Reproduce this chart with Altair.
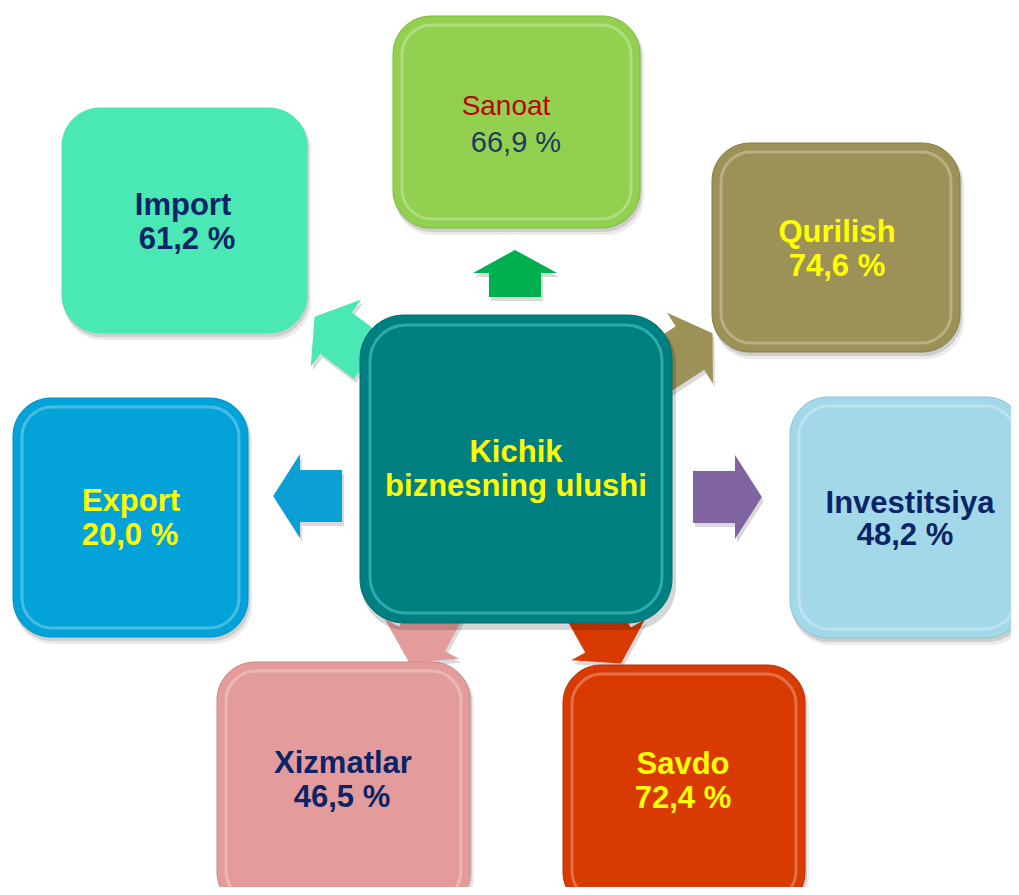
import altair as alt
import pandas as pd

# ---------------- data ----------------
categories = ["Sanoat", "Qurilish", "Investitsiya", "Savdo", "Xizmatlar", "Export", "Import"]
shares = [66.9, 74.6, 48.2, 72.4, 46.5, 20.0, 61.2]
centre_lines = ["Kichik", "biznesning ulushi"]

# ---------------- layout (page pixel coordinates) ----------------
box_x0 = [393, 712, 790, 563, 217, 13, 62]
box_x1 = [640, 960, 1024, 805, 470, 248, 307]
box_y0 = [16, 143, 397, 665, 662, 398, 108]
box_y1 = [228, 352, 638, 910, 910, 637, 333]
bevel = [True, True, True, True, True, True, False]
label_x = [506, 837, 910, 683, 343, 131, 183]
label_y = [107, 233, 504, 765, 764, 502, 206]
value_x = [516, 837, 905, 683, 342, 130, 187]
value_y = [143, 267, 536, 799, 798, 536, 240]
arrow_x = [515, 690, 735, 608, 422, 300, 336]
arrow_y = [273, 348, 497, 640, 639, 496, 333]
arrow_angle = [0, 57, 90, 151, 208, 270, 307]
centre_box = [360, 672, 315, 623]
centre_text_x = [516, 516]
centre_text_y = [453, 487]

# ---------------- styles ----------------
box_fill = ["#92d050", "#9c9156", "#a2d8e8", "#d83a02", "#e39c9b", "#03a3d9", "#4ae8b4"]
box_edge = ["#7cb83e", "#857c48", "#8cc3d4", "#b83000", "#c98887", "#0290c2", "#4ae8b4"]
label_fill = ["#c00000", "#ffff00", "#0b2467", "#ffff00", "#0b2467", "#ffff00", "#0b2467"]
value_fill = ["#1f3864", "#ffff00", "#0b2467", "#ffff00", "#0b2467", "#ffff00", "#0b2467"]
arrow_fill = ["#00b050", "#9c9156", "#8064a2", "#d83a02", "#e39c9b", "#0aa0d6", "#4ae8b4"]
FONT = "Liberation Sans"

W, H = 1003, 879
xs = alt.Scale(domain=[8, 8 + W], nice=False, zero=False)
ys = alt.Scale(domain=[8, 8 + H], nice=False, zero=False, reverse=True)

def fmt(v):
    return f"{v:.1f}".replace(".", ",") + " %"

df = pd.DataFrame({
    "category": categories,
    "value": [fmt(v) for v in shares],
    "x0": box_x0, "x1": box_x1, "y0": box_y0, "y1": box_y1,
    "bevel": bevel,
    "lx": label_x, "ly": label_y, "vx": value_x, "vy": value_y,
    "ax": arrow_x, "ay": arrow_y, "angle": arrow_angle,
    "fill": box_fill, "edge": box_edge, "lfill": label_fill, "vfill": value_fill,
    "afill": arrow_fill,
})
df["sx0"] = df.x0 + 2
df["sx1"] = df.x1 + 4
df["sy0"] = df.y0 + 4
df["sy1"] = df.y1 + 7
df["tx0"] = df.x0 + 1
df["tx1"] = df.x1 + 2
df["ty0"] = df.y0 + 2
df["ty1"] = df.y1 + 4
df["ix0"] = df.x0 + 9
df["ix1"] = df.x1 - 9
df["iy0"] = df.y0 + 9
df["iy1"] = df.y1 - 9

cdf = pd.DataFrame({
    "x0": [centre_box[0]], "x1": [centre_box[1]],
    "y0": [centre_box[2]], "y1": [centre_box[3]],
})
cdf["sx0"] = cdf.x0 + 2
cdf["sx1"] = cdf.x1 + 4
cdf["sy0"] = cdf.y0 + 4
cdf["sy1"] = cdf.y1 + 7
cdf["ix0"] = cdf.x0 + 10
cdf["ix1"] = cdf.x1 - 10
cdf["iy0"] = cdf.y0 + 10
cdf["iy1"] = cdf.y1 - 10

tdf = pd.DataFrame({"line": centre_lines, "tx": centre_text_x, "ty": centre_text_y})

ARROW = "M0,-0.64 L1,0 L0.62,0 L0.62,1 L-0.62,1 L-0.62,0 L-1,0 Z"
ARROW_SHORT = "M0,-0.55 L1,0 L0.62,0 L0.62,0.57 L-0.62,0.57 L-0.62,0 L-1,0 Z"


def rect_enc(a, b, c, d):
    return dict(
        x=alt.X(f"{a}:Q", scale=xs, axis=None),
        x2=alt.X2(f"{b}:Q"),
        y=alt.Y(f"{c}:Q", scale=ys, axis=None),
        y2=alt.Y2(f"{d}:Q"),
    )


base = alt.Chart(df)

arrow_enc = dict(
    x=alt.X("ax:Q", scale=xs, axis=None),
    y=alt.Y("ay:Q", scale=ys, axis=None),
    angle=alt.Angle("angle:Q", scale=None),
    fill=alt.Fill("afill:N", scale=None),
)
arrow_shadow = base.transform_calculate(
    ax2="datum.ax + 2", ay2="datum.ay + 4"
).transform_filter("datum.category != 'Sanoat'").mark_point(
    shape=ARROW, filled=True, size=7056, opacity=0.15, color="#000000", strokeWidth=0
).encode(
    x=alt.X("ax2:Q", scale=xs, axis=None),
    y=alt.Y("ay2:Q", scale=ys, axis=None),
    angle=alt.Angle("angle:Q", scale=None),
)
arrow_top_shadow = base.transform_calculate(
    ax2="datum.ax + 2", ay2="datum.ay + 4"
).transform_filter("datum.category == 'Sanoat'").mark_point(
    shape=ARROW_SHORT, filled=True, size=7056, opacity=0.15, color="#000000", strokeWidth=0
).encode(
    x=alt.X("ax2:Q", scale=xs, axis=None),
    y=alt.Y("ay2:Q", scale=ys, axis=None),
    angle=alt.Angle("angle:Q", scale=None),
)
arrows = base.transform_filter("datum.category != 'Sanoat'").mark_point(
    shape=ARROW, filled=True, size=7056, opacity=1, strokeWidth=0
).encode(**arrow_enc)
arrow_top = base.transform_filter("datum.category == 'Sanoat'").mark_point(
    shape=ARROW_SHORT, filled=True, size=7056, opacity=1, strokeWidth=0
).encode(**arrow_enc)

box_shadow1 = base.mark_rect(cornerRadius=38, color="#000000", opacity=0.08, clip=True).encode(
    **rect_enc("sx0", "sx1", "sy0", "sy1"))
box_shadow2 = base.mark_rect(cornerRadius=38, color="#000000", opacity=0.12, clip=True).encode(
    **rect_enc("tx0", "tx1", "ty0", "ty1"))
boxes = base.mark_rect(cornerRadius=38, clip=True, strokeWidth=1).encode(
    fill=alt.Fill("fill:N", scale=None),
    stroke=alt.Stroke("edge:N", scale=None),
    **rect_enc("x0", "x1", "y0", "y1"))
bevels = base.transform_filter("datum.bevel").mark_rect(
    cornerRadius=30, clip=True, fillOpacity=0, stroke="#ffffff", strokeOpacity=0.28, strokeWidth=3
).encode(**rect_enc("ix0", "ix1", "iy0", "iy1"))

cbase = alt.Chart(cdf)
c_shadow = cbase.mark_rect(cornerRadius=44, color="#000000", opacity=0.16).encode(
    **rect_enc("sx0", "sx1", "sy0", "sy1"))
c_box = cbase.mark_rect(cornerRadius=44, color="#007f80", stroke="#006e6f", strokeWidth=1).encode(
    **rect_enc("x0", "x1", "y0", "y1"))
c_bevel = cbase.mark_rect(cornerRadius=36, fillOpacity=0, stroke="#5fe6e6", strokeOpacity=0.45,
                          strokeWidth=3).encode(**rect_enc("ix0", "ix1", "iy0", "iy1"))
c_text = alt.Chart(tdf).mark_text(font=FONT, fontSize=31, fontWeight="bold", color="#ffff00",
                                  align="center", baseline="middle").encode(
    x=alt.X("tx:Q", scale=xs, axis=None),
    y=alt.Y("ty:Q", scale=ys, axis=None),
    text="line:N",
)

labels_bold = base.transform_filter("datum.category != 'Sanoat'").mark_text(
    font=FONT, fontSize=31, fontWeight="bold", align="center", baseline="middle"
).encode(
    x=alt.X("lx:Q", scale=xs, axis=None), y=alt.Y("ly:Q", scale=ys, axis=None),
    text="category:N", color=alt.Color("lfill:N", scale=None))
values_bold = base.transform_filter("datum.category != 'Sanoat'").mark_text(
    font=FONT, fontSize=31, fontWeight="bold", align="center", baseline="middle"
).encode(
    x=alt.X("vx:Q", scale=xs, axis=None), y=alt.Y("vy:Q", scale=ys, axis=None),
    text="value:N", color=alt.Color("vfill:N", scale=None))
labels_reg = base.transform_filter("datum.category == 'Sanoat'").mark_text(
    font=FONT, fontSize=28, fontWeight="normal", align="center", baseline="middle"
).encode(
    x=alt.X("lx:Q", scale=xs, axis=None), y=alt.Y("ly:Q", scale=ys, axis=None),
    text="category:N", color=alt.Color("lfill:N", scale=None))
values_reg = base.transform_filter("datum.category == 'Sanoat'").mark_text(
    font=FONT, fontSize=29, fontWeight="normal", align="center", baseline="middle"
).encode(
    x=alt.X("vx:Q", scale=xs, axis=None), y=alt.Y("vy:Q", scale=ys, axis=None),
    text="value:N", color=alt.Color("vfill:N", scale=None))

chart = alt.layer(
    arrow_shadow, arrow_top_shadow, arrows, arrow_top,
    box_shadow1, box_shadow2, boxes, bevels,
    c_shadow, c_box, c_bevel, c_text,
    labels_bold, values_bold, labels_reg, values_reg,
).properties(
    width=W, height=H, autosize="none", padding=0, background="#ffffff"
).configure_view(strokeWidth=0)

chart.save("out.html", embed_options={"renderer": "svg", "actions": False})
